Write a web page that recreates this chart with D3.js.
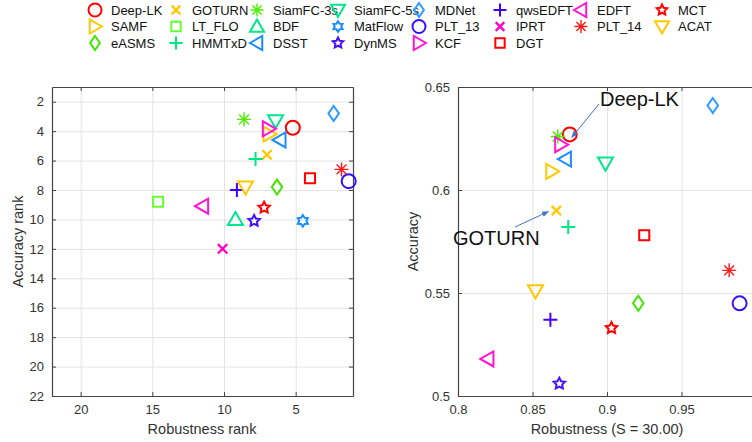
<!DOCTYPE html>
<html>
<head>
<meta charset="utf-8">
<script src="https://cdn.jsdelivr.net/npm/d3@7"></script>
<style>
  body { margin: 0; background: #fff; }
  text { font-family: "Liberation Sans", Arial, sans-serif; }
</style>
</head>
<body>
<div id="chart"></div>
<script>
// trackers in legend order (row-major, 8 columns)
const trackers = ['Deep-LK','GOTURN','SiamFC-3s','SiamFC-5s','MDNet','qwsEDFT','EDFT','MCT',
  'SAMF','LT_FLO','BDF','MatFlow','PLT_13','IPRT','PLT_14','ACAT',
  'eASMS','HMMTxD','DSST','DynMS','KCF','DGT'];
const markers = ['o','x','*','v','d','+','<','p',
  '>','s','^','h','o','x','*','v',
  'd','+','<','p','>','s'];
const colors = ['#ff0000','#ffc800','#4ded00','#00e68c','#2b9bff','#4400ff','#ff14d4','#ff0000',
  '#ffc800','#66ff33','#00e68c','#1a8cff','#3311ff','#ff00cc','#ff1a1a','#ffc800',
  '#44e600','#00e680','#1a8cff','#4411ff','#ff14d4','#ff0000'];
// left panel: ranks
const robRank = [5.2, 7.0, 8.6, 6.4, 2.35, 9.1, 11.5, 7.2,
  6.85, 14.6, 9.2, 4.5, 1.3, 10.1, 1.8, 8.5,
  6.3, 7.8, 6.1, 7.9, 6.9, 4.0];
const accRank = [3.77, 5.6, 3.2, 3.3, 2.8, 8.0, 9.1, 9.2,
  4.2, 8.8, 10.0, 10.1, 7.4, 12.0, 6.6, 7.8,
  7.8, 5.9, 4.6, 10.1, 3.84, 7.2];
// right panel: raw scores (null = outside the shown range)
const robustness = [0.875, 0.866, 0.867, 0.899, 0.971, 0.862, 0.820, 0.903,
  0.863, null, null, null, 0.989, null, 0.982, 0.852,
  0.921, 0.874, 0.872, 0.868, 0.869, 0.925];
const accuracy = [0.627, 0.590, 0.626, 0.613, 0.641, 0.537, 0.518, 0.533,
  0.609, null, null, null, 0.545, null, 0.561, 0.551,
  0.545, 0.582, 0.615, 0.506, 0.622, 0.578];

const rankXTicks = [20, 15, 10, 5];
const rankYTicks = [2, 4, 6, 8, 10, 12, 14, 16, 18, 20, 22];
const robTicks = [0.8, 0.85, 0.9, 0.95];
const accTicks = [0.5, 0.55, 0.6, 0.65];

const W = 752, H = 442;
const svg = d3.select('#chart').append('svg')
  .attr('width', W).attr('height', H)
  .style('background', '#fff');

// marker shapes, centred on 0,0
function markerPath(m, s) {
  const p = d3.path();
  const r = s / 2;
  if (m === 'o') { p.moveTo(r, 0); p.arc(0, 0, r, 0, 2 * Math.PI); }
  else if (m === 's') { const h = r * 0.72; p.rect(-h, -h, 2 * h, 2 * h); }
  else if (m === 'd') { p.moveTo(0, -r); p.lineTo(r * 0.7, 0); p.lineTo(0, r); p.lineTo(-r * 0.7, 0); p.closePath(); }
  else if (m === '+') { p.moveTo(-r, 0); p.lineTo(r, 0); p.moveTo(0, -r); p.lineTo(0, r); }
  else if (m === 'x') { const h = r * 0.72; p.moveTo(-h, -h); p.lineTo(h, h); p.moveTo(-h, h); p.lineTo(h, -h); }
  else if (m === '*') {
    for (let i = 0; i < 4; i++) {
      const a = i * Math.PI / 4;
      p.moveTo(-r * Math.cos(a), -r * Math.sin(a)); p.lineTo(r * Math.cos(a), r * Math.sin(a));
    }
  }
  else if (m === '^' || m === 'v' || m === '<' || m === '>') {
    const rot = { '^': 0, '>': 90, 'v': 180, '<': 270 }[m] * Math.PI / 180;
    const pts = [[0, -r], [r, r * 0.75], [-r, r * 0.75]].map(([x, y]) => [
      x * Math.cos(rot) - y * Math.sin(rot), x * Math.sin(rot) + y * Math.cos(rot)]);
    p.moveTo(pts[0][0], pts[0][1]); p.lineTo(pts[1][0], pts[1][1]); p.lineTo(pts[2][0], pts[2][1]); p.closePath();
  }
  else if (m === 'p' || m === 'h') {
    const n = m === 'p' ? 5 : 6, ri = m === 'p' ? r * 0.5 : r * 0.62;
    for (let i = 0; i < 2 * n; i++) {
      const a = -Math.PI / 2 + i * Math.PI / n, rr = i % 2 ? ri : r;
      const x = rr * Math.cos(a), y = rr * Math.sin(a);
      i ? p.lineTo(x, y) : p.moveTo(x, y);
    }
    p.closePath();
  }
  return p.toString();
}
const markerSize = { 'o': 14, 's': 14, 'd': 15, '+': 14, 'x': 13, '*': 14, '^': 15, 'v': 15, '<': 15, '>': 15, 'p': 12, 'h': 11.5 };
const markerStroke = m => (m === '*' ? 1.4 : m === 'x' ? 2.3 : 2);

// legend
const legend = svg.append('g');
trackers.forEach((name, i) => {
  const col = i % 8, row = Math.floor(i / 8);
  const g = legend.append('g').attr('transform', `translate(${95 + col * 81},${10 + row * 16.5})`);
  g.append('path').attr('d', markerPath(markers[i], markerSize[markers[i]] - 1))
    .attr('fill', 'none').attr('stroke', colors[i]).attr('stroke-width', markerStroke(markers[i]));
  g.append('text').attr('x', 16).attr('y', 4.5).style('font-size', '13px').attr('fill', '#111').text(name);
});

function panel(xScale, yScale, xTicks, yTicks, xLabel, yLabel, xLabelPos, yLabelX) {
  const [x0, x1] = xScale.range();
  const [y0, y1] = [d3.min(yScale.range()), d3.max(yScale.range())];
  const fmt = d => String(+d);
  const g = svg.append('g');
  // grid
  g.append('g').attr('transform', `translate(0,${y1})`)
    .call(d3.axisBottom(xScale).tickValues(xTicks).tickSize(-(y1 - y0)).tickFormat(''))
    .call(a => a.select('.domain').remove())
    .selectAll('line').attr('stroke', '#e3e3e3');
  g.append('g').attr('transform', `translate(${x0},0)`)
    .call(d3.axisLeft(yScale).tickValues(yTicks).tickSize(-(x1 - x0)).tickFormat(''))
    .call(a => a.select('.domain').remove())
    .selectAll('line').attr('stroke', '#e3e3e3');
  // box with inward ticks
  const styleAxis = a => {
    a.select('.domain').attr('stroke', '#444').attr('stroke-width', 1.2);
    a.selectAll('.tick line').attr('stroke', '#444');
    a.selectAll('text').style('font-size', '13px').attr('fill', '#333')
      .style('font-family', '"Liberation Sans", Arial, sans-serif');
  };
  g.append('g').attr('transform', `translate(0,${y1})`)
    .call(d3.axisBottom(xScale).tickValues(xTicks).tickFormat(fmt).tickSizeInner(-4).tickSizeOuter(0).tickPadding(9))
    .call(styleAxis);
  g.append('g').attr('transform', `translate(${x0},0)`)
    .call(d3.axisLeft(yScale).tickValues(yTicks).tickFormat(fmt).tickSizeInner(-4).tickSizeOuter(0).tickPadding(8))
    .call(styleAxis);
  g.append('g').attr('transform', `translate(0,${y0})`)
    .call(d3.axisTop(xScale).tickValues(xTicks).tickSizeInner(-4).tickSizeOuter(0).tickFormat(''))
    .call(styleAxis);
  g.append('g').attr('transform', `translate(${x1},0)`)
    .call(d3.axisRight(yScale).tickValues(yTicks).tickSizeInner(-4).tickSizeOuter(0).tickFormat(''))
    .call(styleAxis);
  g.append('text').attr('x', xLabelPos).attr('y', 434).attr('text-anchor', 'middle')
    .style('font-size', '14.5px').attr('fill', '#333').text(xLabel);
  g.append('text').attr('transform', `translate(${yLabelX},${(y0 + y1) / 2}) rotate(-90)`)
    .attr('text-anchor', 'middle').style('font-size', '14.5px').attr('fill', '#333').text(yLabel);
  return g;
}

// left panel: ranks
const xRank = d3.scaleLinear().domain([22, 1]).range([52, 353]);
const yRank = d3.scaleLinear().domain([1, 22]).range([87, 396]);
const left = panel(xRank, yRank, rankXTicks, rankYTicks, 'Robustness rank', 'Accuracy rank', 202, 23);
left.selectAll('.pt').data(trackers).enter().append('path')
  .attr('transform', (d, i) => `translate(${xRank(robRank[i])},${yRank(accRank[i])})`)
  .attr('d', (d, i) => markerPath(markers[i], markerSize[markers[i]]))
  .attr('fill', 'none').attr('stroke', (d, i) => colors[i]).attr('stroke-width', (d, i) => markerStroke(markers[i]));

// right panel: raw scores
const xRob = d3.scaleLinear().domain([0.8, 1.0]).range([458, 756]);
const yAcc = d3.scaleLinear().domain([0.5, 0.65]).range([396, 87]);
const right = panel(xRob, yAcc, robTicks, accTicks, 'Robustness (S = 30.00)', 'Accuracy', 607, 418);
const shown = trackers.map((d, i) => i).filter(i => robustness[i] !== null);
right.selectAll('.pt').data(shown).enter().append('path')
  .attr('transform', i => `translate(${xRob(robustness[i])},${yAcc(accuracy[i])})`)
  .attr('d', i => markerPath(markers[i], markerSize[markers[i]]))
  .attr('fill', 'none').attr('stroke', i => colors[i]).attr('stroke-width', i => markerStroke(markers[i]));

// annotations
svg.append('defs').append('marker').attr('id', 'arr')
  .attr('viewBox', '0 0 10 10').attr('refX', 9).attr('refY', 5)
  .attr('markerWidth', 7).attr('markerHeight', 7).attr('orient', 'auto')
  .append('path').attr('d', 'M0,1L10,5L0,9Z').attr('fill', '#4472c4');
const iLK = trackers.indexOf('Deep-LK'), iGO = trackers.indexOf('GOTURN');
svg.append('line').attr('x1', 599).attr('y1', 104)
  .attr('x2', xRob(robustness[iLK]) + 2).attr('y2', yAcc(accuracy[iLK]) + 3)
  .attr('stroke', '#4472c4').attr('stroke-width', 1).attr('marker-end', 'url(#arr)');
svg.append('text').attr('x', 600).attr('y', 106).style('font-size', '20px').attr('fill', '#111').text('Deep-LK');
svg.append('line').attr('x1', 515).attr('y1', 227)
  .attr('x2', xRob(robustness[iGO]) - 8).attr('y2', yAcc(accuracy[iGO]) + 1)
  .attr('stroke', '#4472c4').attr('stroke-width', 1).attr('marker-end', 'url(#arr)');
svg.append('text').attr('x', 453).attr('y', 245).style('font-size', '20px').attr('fill', '#111').text('GOTURN');
</script>
</body>
</html>
